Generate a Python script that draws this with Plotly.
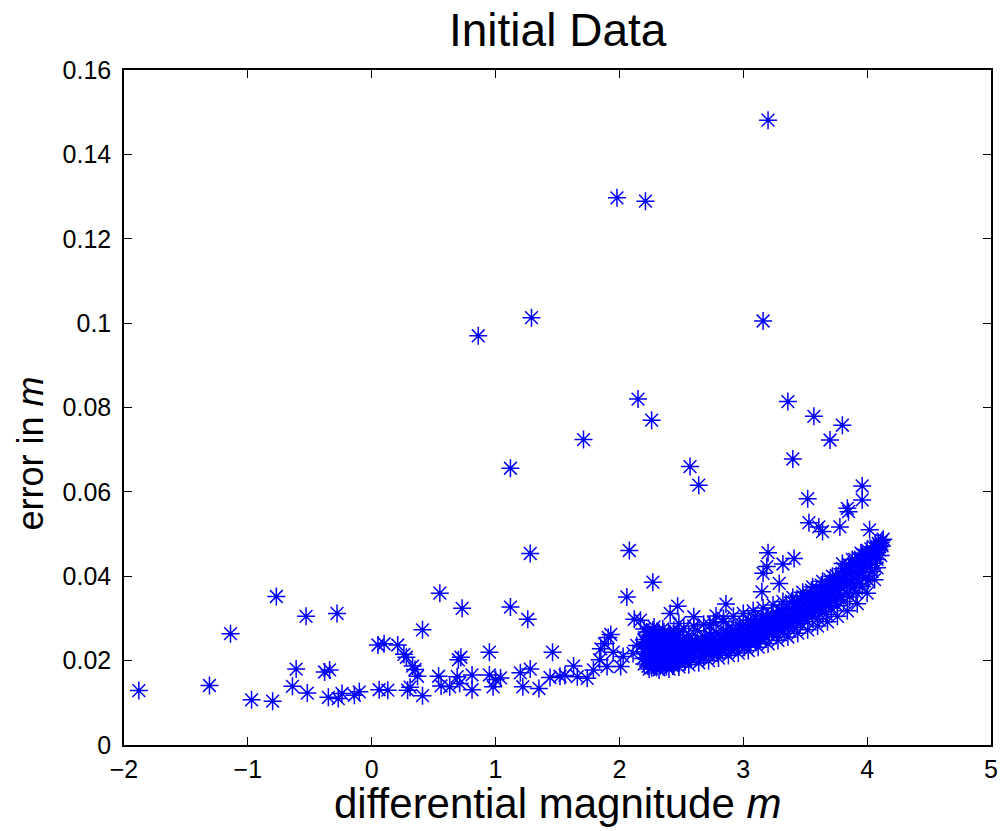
import plotly.graph_objects as go

# sparse points, left part and outliers
mag_sparse = [
    -1.88, -1.31, -1.14, -0.97, -0.80, -0.77, -0.64, -0.61, -0.53, -0.52,
    -0.38, -0.34, -0.35, -0.28, -0.27, -0.24, -0.14, -0.10, 0.05, 0.10,
    0.06, 0.13, 0.21, 0.26, 0.28, 0.33, 0.35, 0.37, 0.29, 0.31,
    0.41, 0.41, 0.55, 0.54, 0.56, 0.63, 0.69, 0.71, 0.73, 0.72,
    0.70, 0.81, 0.81, 0.86, 0.95, 0.95, 0.98, 1.00, 1.04, 1.12,
    1.12, 1.20, 1.22, 1.26, 1.28, 1.29, 1.28, 1.35, 1.46, 1.44,
    1.52, 1.56, 1.63, 1.66, 1.71, 1.74, 1.79, 1.84, 1.85, 1.88,
    1.90, 1.91, 1.93, 1.95, 1.98, 2.01, 2.03, 2.11, 2.14,
    2.21, 2.15, 2.26, 2.08, 2.06, 2.27, 2.12, 2.57, 2.64, 3.20,
    3.16, 3.36, 3.40, 3.57, 3.70, 3.80, 3.52, 3.53, 3.61, 3.64,
    3.78, 3.85, 3.96, 3.96, 3.84, 4.02, 4.13,
    3.19, 3.16, 3.32, 3.41, 3.29, 3.15, 2.86, 2.47, 2.41, 2.48,
    2.60, 2.78, 2.28, 2.17, 3.20,
]
err_sparse = [
    0.0129, 0.0141, 0.0264, 0.0107, 0.0104, 0.0352, 0.0139, 0.0180, 0.0305, 0.0123,
    0.0173, 0.0178, 0.0113, 0.0312, 0.0110, 0.0122, 0.0118, 0.0126, 0.0237, 0.0240,
    0.0131, 0.0130, 0.0237, 0.0215, 0.0208, 0.0187, 0.0179, 0.0163, 0.0130, 0.0137,
    0.0273, 0.0117, 0.0360, 0.0163, 0.0140, 0.0138, 0.0162, 0.0146, 0.0324, 0.0208,
    0.0202, 0.0166, 0.0131, 0.0970, 0.0220, 0.0166, 0.0138, 0.0155, 0.0159, 0.0327,
    0.0656, 0.0171, 0.0138, 0.0298, 0.0454, 0.1013, 0.0180, 0.0134, 0.0220, 0.0160,
    0.0163, 0.0165, 0.0187, 0.0162, 0.0724, 0.0158, 0.0178, 0.0202, 0.0228, 0.0240,
    0.0186, 0.0255, 0.0262, 0.0220, 0.1297, 0.0186, 0.0210, 0.0217, 0.0236,
    0.1289, 0.0820, 0.0770, 0.0461, 0.0351, 0.0386, 0.0298, 0.0660, 0.0616, 0.1481,
    0.1005, 0.0814, 0.0678, 0.0779, 0.0723, 0.0758, 0.0584, 0.0527, 0.0517, 0.0506,
    0.0517, 0.0553, 0.0614, 0.0581, 0.0561, 0.0510, 0.0488,
    0.0423, 0.0407, 0.0429, 0.0442, 0.0383, 0.0363, 0.0334, 0.0329, 0.0312, 0.0288,
    0.0304, 0.0306, 0.0280, 0.0296, 0.0456,
]

# dense band
mag_band = [
    2.18, 2.19, 2.20, 2.20, 2.21, 2.22, 2.22, 2.23, 2.23, 2.24,
    2.24, 2.25, 2.25, 2.26, 2.26, 2.27, 2.27, 2.28, 2.28, 2.29,
    2.29, 2.30, 2.30, 2.31, 2.31, 2.32, 2.32, 2.33, 2.33, 2.34,
    2.34, 2.35, 2.35, 2.36, 2.36, 2.37, 2.37, 2.38, 2.38, 2.39,
    2.40, 2.40, 2.41, 2.42, 2.42, 2.43, 2.44, 2.44, 2.45, 2.46,
    2.46, 2.47, 2.48, 2.48, 2.49, 2.50, 2.51, 2.51, 2.52, 2.53,
    2.54, 2.55, 2.56, 2.57, 2.58, 2.59, 2.60, 2.61, 2.62, 2.63,
    2.64, 2.65, 2.66, 2.67, 2.68, 2.69, 2.70, 2.71, 2.72, 2.73,
    2.74, 2.75, 2.76, 2.77, 2.78, 2.79, 2.80, 2.81, 2.82, 2.83,
    2.84, 2.85, 2.86, 2.87, 2.88, 2.89, 2.90, 2.91, 2.92, 2.93,
    2.94, 2.95, 2.96, 2.97, 2.98, 2.99, 3.00, 3.01, 3.02, 3.03,
    3.04, 3.05, 3.06, 3.07, 3.08, 3.09, 3.10, 3.11, 3.12, 3.13,
    3.14, 3.15, 3.16, 3.17, 3.18, 3.19, 3.20, 3.21, 3.22, 3.23,
    3.24, 3.25, 3.26, 3.27, 3.28, 3.29, 3.30, 3.31, 3.32, 3.33,
    3.34, 3.35, 3.36, 3.37, 3.38, 3.39, 3.40, 3.41, 3.42, 3.43,
    3.44, 3.45, 3.46, 3.47, 3.48, 3.49, 3.50, 3.51, 3.52, 3.53,
    3.54, 3.55, 3.56, 3.57, 3.58, 3.59, 3.60, 3.61, 3.62, 3.63,
    3.64, 3.65, 3.66, 3.67, 3.68, 3.69, 3.70, 3.71, 3.72, 3.73,
    3.74, 3.75, 3.76, 3.77, 3.78, 3.79, 3.80, 3.81, 3.82, 3.83,
    3.84, 3.85, 3.86, 3.87, 3.88, 3.89, 3.90, 3.91, 3.92, 3.93,
    3.94, 3.95, 3.96, 3.97, 3.98, 3.99, 4.00, 4.01, 4.02, 4.03,
    4.04, 4.05, 4.06, 4.07, 4.08, 4.09, 4.10, 4.11, 4.12,
    2.21, 2.23, 2.25, 2.27, 2.29, 2.31, 2.33, 2.35, 2.37, 2.39,
    2.41, 2.43, 2.45, 2.47, 2.49, 2.52, 2.55, 2.58, 2.62, 2.65,
    2.68, 2.72, 2.76, 2.80, 2.84, 2.88, 2.92, 2.96, 3.00, 3.03,
    3.06, 3.09, 3.12, 3.15, 3.18, 3.21, 3.24, 3.27, 3.30, 3.33,
    3.36, 3.39, 3.42, 3.45, 3.48, 3.51, 3.54, 3.57, 3.60, 3.63,
    3.66, 3.69, 3.72, 3.75, 3.78, 3.81, 3.84, 3.87, 3.90, 3.93,
    3.96, 3.99, 4.02, 4.05, 4.08, 4.11,
    2.20, 2.24, 2.28, 2.32, 2.36, 2.40, 2.44, 2.48, 2.52, 2.56,
    2.60, 2.64, 2.68, 2.72, 2.76, 2.80, 2.84, 2.88, 2.92, 2.96,
    3.00, 3.04, 3.08, 3.12, 3.16, 3.20, 3.24, 3.28, 3.32, 3.36,
    3.40, 3.44, 3.48, 3.52, 3.56, 3.60, 3.64, 3.68, 3.72, 3.76,
    3.80, 3.84, 3.88, 3.92, 3.96, 4.00, 4.04, 4.08, 4.12, 4.06,
    2.23, 2.26, 2.30, 2.34, 2.38, 2.42, 2.46, 2.50, 2.54, 2.57,
    2.61, 2.66, 2.70, 2.74, 2.78, 2.82, 2.86, 2.90, 2.94, 2.98,
    3.02, 3.06, 3.10, 3.14, 3.19, 3.23, 3.27, 3.31, 3.35, 3.39,
    3.43, 3.47, 3.51, 3.55, 3.59, 3.62, 3.67, 3.71, 3.74, 3.79,
    3.83, 3.86, 3.91, 3.95, 3.98, 4.03, 4.07, 4.10,
]
err_band = [
    0.0235, 0.0205, 0.0250, 0.0192, 0.0221, 0.0268, 0.0203, 0.0187, 0.0239, 0.0214,
    0.0257, 0.0196, 0.0229, 0.0183, 0.0246, 0.0210, 0.0272, 0.0190, 0.0226, 0.0201,
    0.0255, 0.0215, 0.0184, 0.0237, 0.0198, 0.0262, 0.0209, 0.0188, 0.0224, 0.0243,
    0.0199, 0.0212, 0.0275, 0.0192, 0.0231, 0.0205, 0.0251, 0.0218, 0.0186, 0.0236,
    0.0201, 0.0264, 0.0222, 0.0195, 0.0245, 0.0210, 0.0230, 0.0190, 0.0255, 0.0206,
    0.0221, 0.0240, 0.0199, 0.0268, 0.0215, 0.0233, 0.0204, 0.0250, 0.0222, 0.0197,
    0.0240, 0.0212, 0.0260, 0.0228, 0.0205, 0.0245, 0.0218, 0.0236, 0.0208, 0.0271,
    0.0226, 0.0213, 0.0249, 0.0232, 0.0210, 0.0258, 0.0222, 0.0240, 0.0215, 0.0284,
    0.0233, 0.0221, 0.0251, 0.0228, 0.0266, 0.0218, 0.0243, 0.0231, 0.0256, 0.0224,
    0.0292, 0.0240, 0.0229, 0.0262, 0.0236, 0.0249, 0.0226, 0.0275, 0.0243, 0.0232,
    0.0258, 0.0247, 0.0236, 0.0284, 0.0252, 0.0241, 0.0268, 0.0232, 0.0259, 0.0247,
    0.0296, 0.0262, 0.0240, 0.0275, 0.0253, 0.0266, 0.0245, 0.0288, 0.0258, 0.0271,
    0.0250, 0.0305, 0.0263, 0.0280, 0.0256, 0.0292, 0.0270, 0.0261, 0.0284, 0.0310,
    0.0268, 0.0296, 0.0277, 0.0263, 0.0289, 0.0318, 0.0275, 0.0302, 0.0284, 0.0270,
    0.0296, 0.0326, 0.0281, 0.0308, 0.0290, 0.0341, 0.0300, 0.0279, 0.0316, 0.0295,
    0.0334, 0.0307, 0.0288, 0.0322, 0.0352, 0.0301, 0.0330, 0.0313, 0.0292, 0.0345,
    0.0320, 0.0367, 0.0305, 0.0337, 0.0322, 0.0358, 0.0300, 0.0343, 0.0326, 0.0379,
    0.0315, 0.0352, 0.0335, 0.0310, 0.0368, 0.0340, 0.0392, 0.0325, 0.0357, 0.0381,
    0.0344, 0.0402, 0.0330, 0.0366, 0.0389, 0.0352, 0.0418, 0.0340, 0.0377, 0.0400,
    0.0360, 0.0428, 0.0351, 0.0386, 0.0412, 0.0372, 0.0440, 0.0362, 0.0396, 0.0424,
    0.0383, 0.0455, 0.0376, 0.0409, 0.0435, 0.0398, 0.0462, 0.0390, 0.0420, 0.0447,
    0.0411, 0.0470, 0.0431, 0.0455, 0.0440, 0.0478, 0.0462, 0.0449, 0.0472,
    0.0244, 0.0216, 0.0262, 0.0195, 0.0232, 0.0213, 0.0253, 0.0194, 0.0226, 0.0207,
    0.0258, 0.0187, 0.0218, 0.0203, 0.0247, 0.0211, 0.0231, 0.0220, 0.0242, 0.0230,
    0.0238, 0.0235, 0.0226, 0.0229, 0.0248, 0.0232, 0.0255, 0.0262, 0.0250, 0.0272,
    0.0258, 0.0280, 0.0266, 0.0274, 0.0287, 0.0276, 0.0290, 0.0281, 0.0295, 0.0289,
    0.0303, 0.0297, 0.0309, 0.0320, 0.0314, 0.0327, 0.0336, 0.0318, 0.0348, 0.0333,
    0.0361, 0.0349, 0.0372, 0.0360, 0.0375, 0.0392, 0.0381, 0.0405, 0.0394, 0.0410,
    0.0425, 0.0441, 0.0437, 0.0452, 0.0465, 0.0480,
    0.0275, 0.0180, 0.0265, 0.0178, 0.0268, 0.0180, 0.0272, 0.0185, 0.0276, 0.0190,
    0.0282, 0.0195, 0.0286, 0.0200, 0.0290, 0.0206, 0.0300, 0.0212, 0.0305, 0.0218,
    0.0312, 0.0224, 0.0318, 0.0232, 0.0325, 0.0240, 0.0332, 0.0248, 0.0340, 0.0256,
    0.0350, 0.0265, 0.0362, 0.0273, 0.0375, 0.0282, 0.0388, 0.0292, 0.0400, 0.0305,
    0.0430, 0.0318, 0.0440, 0.0335, 0.0452, 0.0360, 0.0458, 0.0420, 0.0485, 0.0392,
    0.0228, 0.0220, 0.0241, 0.0220, 0.0247, 0.0226, 0.0238, 0.0219, 0.0226, 0.0244,
    0.0226, 0.0242, 0.0250, 0.0258, 0.0244, 0.0240, 0.0270, 0.0262, 0.0270, 0.0276,
    0.0286, 0.0290, 0.0300, 0.0292, 0.0305, 0.0296, 0.0312, 0.0318, 0.0312, 0.0322,
    0.0338, 0.0340, 0.0350, 0.0345, 0.0335, 0.0362, 0.0373, 0.0365, 0.0385, 0.0400,
    0.0410, 0.0420, 0.0428, 0.0437, 0.0450, 0.0465, 0.0472, 0.0470,
]

x_ticks = [-2, -1, 0, 1, 2, 3, 4, 5]
x_ticktext = ["\u22122", "\u22121", "0", "1", "2", "3", "4", "5"]
y_ticks = [0, 0.02, 0.04, 0.06, 0.08, 0.1, 0.12, 0.14, 0.16]
y_ticktext = ["0", "0.02", "0.04", "0.06", "0.08", "0.1", "0.12", "0.14", "0.16"]

font_name = "Liberation Sans, Arial, sans-serif"

fig = go.Figure()
fig.add_trace(go.Scatter(
    x=mag_sparse + mag_band,
    y=err_sparse + err_band,
    mode="markers",
    marker=dict(symbol="asterisk-open", size=15,
                color="#0000ff", line=dict(color="#0000ff", width=1.5)),
    showlegend=False,
    cliponaxis=False,
))

axis_common = dict(
    showline=True, linecolor="black", linewidth=1.5, mirror="ticks",
    ticks="inside", ticklen=8, tickwidth=1, tickcolor="black",
    showgrid=False, zeroline=False, automargin=False,
    tickfont=dict(family=font_name, size=25, color="black"),
)

fig.update_xaxes(range=[-2, 5], tickvals=x_ticks, ticktext=x_ticktext,
                 ticklabelstandoff=1, **axis_common)
fig.update_yaxes(range=[0, 0.16], tickvals=y_ticks, ticktext=y_ticktext,
                 ticklabelstandoff=6, **axis_common)

# title and axis labels
fig.add_annotation(text="Initial Data", xref="paper", yref="paper", x=0.5, y=1,
                   yanchor="middle", yshift=40, showarrow=False,
                   font=dict(family=font_name, size=46, color="black"))
fig.add_annotation(text="differential magnitude <i>m</i>", xref="paper", yref="paper",
                   x=0.5, y=0, yanchor="middle", yshift=-58, showarrow=False,
                   font=dict(family=font_name, size=42, color="black"))
fig.add_annotation(text="error in <i>m</i>", xref="paper", yref="paper",
                   x=0, y=0.5, xanchor="center", yanchor="middle", xshift=-94, yshift=-46,
                   textangle=-90, showarrow=False,
                   font=dict(family=font_name, size=36, color="black"))

fig.update_layout(
    width=1001, height=831,
    margin=dict(l=124, r=10, t=70, b=86),
    paper_bgcolor="white", plot_bgcolor="white",
    font=dict(family=font_name, color="black"),
)

# drop the default page margin so the figure fills the window exactly
fig.write_html("out.html", config={"displayModeBar": False},
               post_script="document.body.style.margin='0';document.body.style.overflow='hidden';")
